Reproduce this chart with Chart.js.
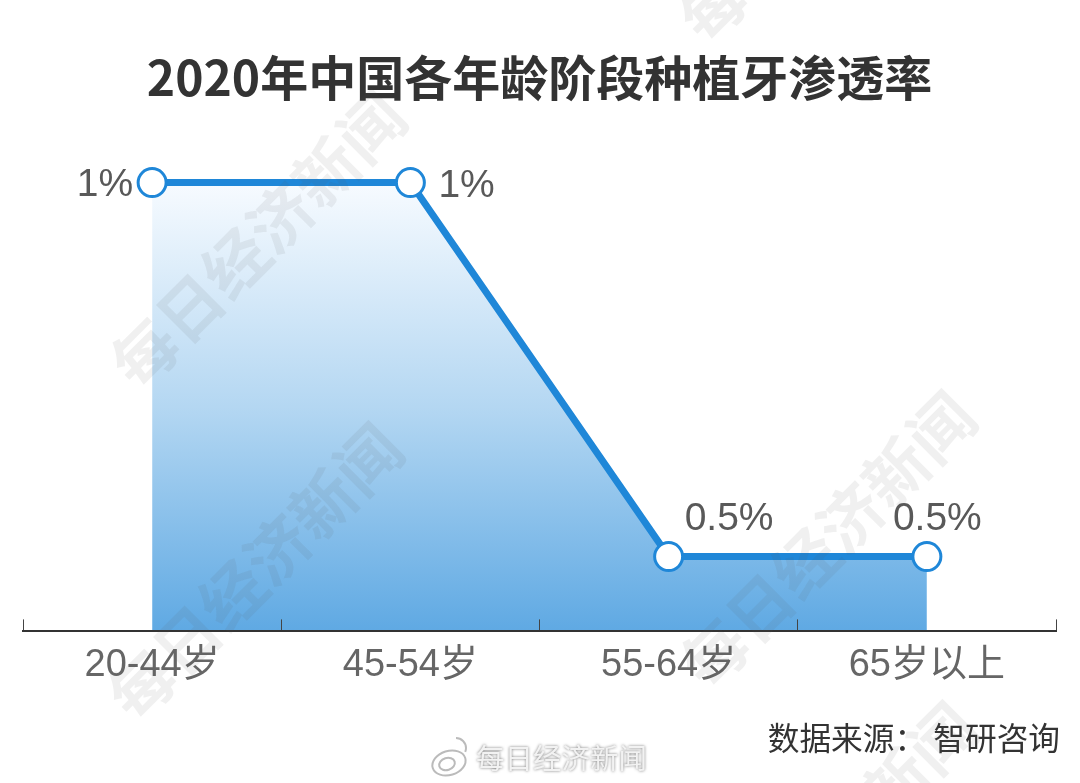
<!DOCTYPE html>
<html>
<head>
<meta charset="utf-8">
<title>2020年中国各年龄阶段种植牙渗透率</title>
<script src="https://cdn.jsdelivr.net/npm/chart.js@4"></script>
<style>
  html, body { margin: 0; padding: 0; background: #fff; }
  canvas { display: block; }
</style>
</head>
<body>
<canvas id="implantChart" width="1080" height="783"></canvas>
<script>
const chartTitle = '2020年中国各年龄阶段种植牙渗透率';
const ageGroups = ['20-44岁', '45-54岁', '55-64岁', '65岁以上'];
const penetrationRates = [1, 1, 0.5, 0.5];
const sourceNote = '数据来源： 智研咨询';
const watermarkText = '每日经济新闻';

const latinFont = '"Liberation Sans", "Noto Sans CJK SC", sans-serif';
const cjkFont = '"Noto Sans CJK SC", sans-serif';

// where each value label sits relative to its point
const labelOffsets = [
  { x: -19, y: 3, align: 'right' },
  { x: 28, y: 4, align: 'left' },
  { x: 16, y: -37, align: 'left' },
  { x: -34, y: -37, align: 'left' },
];

const textOverlay = {
  id: 'textOverlay',
  afterDraw(chart) {
    const ctx = chart.ctx;
    const points = chart.getDatasetMeta(0).data;

    ctx.save();
    ctx.textBaseline = 'middle';
    ctx.font = '39px ' + latinFont;
    ctx.fillStyle = '#595959';
    points.forEach((point, i) => {
      const offset = labelOffsets[i];
      ctx.textAlign = offset.align;
      ctx.fillText(penetrationRates[i] + '%', point.x + offset.x, point.y + offset.y);
    });

    ctx.textAlign = 'right';
    ctx.font = '31.7px ' + cjkFont;
    ctx.fillStyle = '#333';
    ctx.fillText(sourceNote, 1060, 738);

    // diagonal watermarks
    const marks = [[258, 240], [255, 572], [828, 540], [826, -106], [829, 851]];
    ctx.textAlign = 'center';
    ctx.font = 'bold 64px ' + cjkFont;
    ctx.fillStyle = 'rgba(90, 90, 90, 0.09)';
    marks.forEach(([x, y]) => {
      ctx.save();
      ctx.translate(x, y);
      ctx.rotate(-Math.PI / 4);
      ctx.fillText(watermarkText, 0, 0);
      ctx.restore();
    });

    // weibo style signature at the bottom
    ctx.strokeStyle = '#bbb';
    ctx.lineWidth = 2;
    ctx.beginPath();
    ctx.ellipse(449, 763, 17, 12, -0.3, 0, Math.PI * 2);
    ctx.stroke();
    ctx.beginPath();
    ctx.ellipse(447, 764, 8, 6, -0.3, 0, Math.PI * 2);
    ctx.stroke();
    ctx.beginPath();
    ctx.arc(456, 748, 10, -Math.PI / 2, 0.4);
    ctx.stroke();

    ctx.textAlign = 'left';
    ctx.font = '28.5px ' + cjkFont;
    ctx.shadowColor = 'rgba(0, 0, 0, 0.55)';
    ctx.shadowBlur = 3;
    ctx.fillStyle = '#f2f2f2';
    ctx.fillText(watermarkText, 476, 758);
    ctx.restore();
  },
};

function areaGradient(context) {
  const area = context.chart.chartArea;
  if (!area) {
    return 'transparent';
  }
  const scale = context.chart.scales.y;
  const gradient = context.chart.ctx.createLinearGradient(0, scale.getPixelForValue(1), 0, area.bottom);
  gradient.addColorStop(0, '#f7fbff');
  gradient.addColorStop(0.5, '#b4d7f2');
  gradient.addColorStop(1, '#5fa9e3');
  return gradient;
}

new Chart(document.getElementById('implantChart'), {
  type: 'line',
  data: {
    labels: ageGroups,
    datasets: [
      {
        data: penetrationRates,
        borderColor: '#1f87d8',
        borderWidth: 7,
        backgroundColor: areaGradient,
        fill: 'start',
        tension: 0,
        pointRadius: 14,
        pointHoverRadius: 14,
        pointBorderWidth: 3,
        pointBackgroundColor: '#fff',
        pointBorderColor: '#1f87d8',
      },
    ],
  },
  options: {
    responsive: false,
    animation: false,
    layout: {
      padding: { left: 23, right: 24, top: 0, bottom: 72 },
    },
    plugins: {
      legend: { display: false },
      tooltip: { enabled: false },
      title: {
        display: true,
        text: chartTitle,
        color: '#333',
        font: { family: cjkFont, size: 48, weight: 'bold', lineHeight: 1.2 },
        padding: { top: 49, bottom: 1.2 },
      },
    },
    scales: {
      x: {
        offset: true,
        grid: {
          offset: true,
          drawOnChartArea: false,
          tickLength: -12,
          color: '#444',
          lineWidth: 1,
          z: 1,
        },
        border: { color: '#333', width: 2, z: 1 },
        ticks: {
          color: '#666',
          padding: 23,
          maxRotation: 0,
          font: { family: latinFont, size: 38 },
        },
      },
      y: {
        display: false,
        min: 0.4,
        max: 1.1,
      },
    },
  },
  plugins: [textOverlay],
});
</script>
</body>
</html>
